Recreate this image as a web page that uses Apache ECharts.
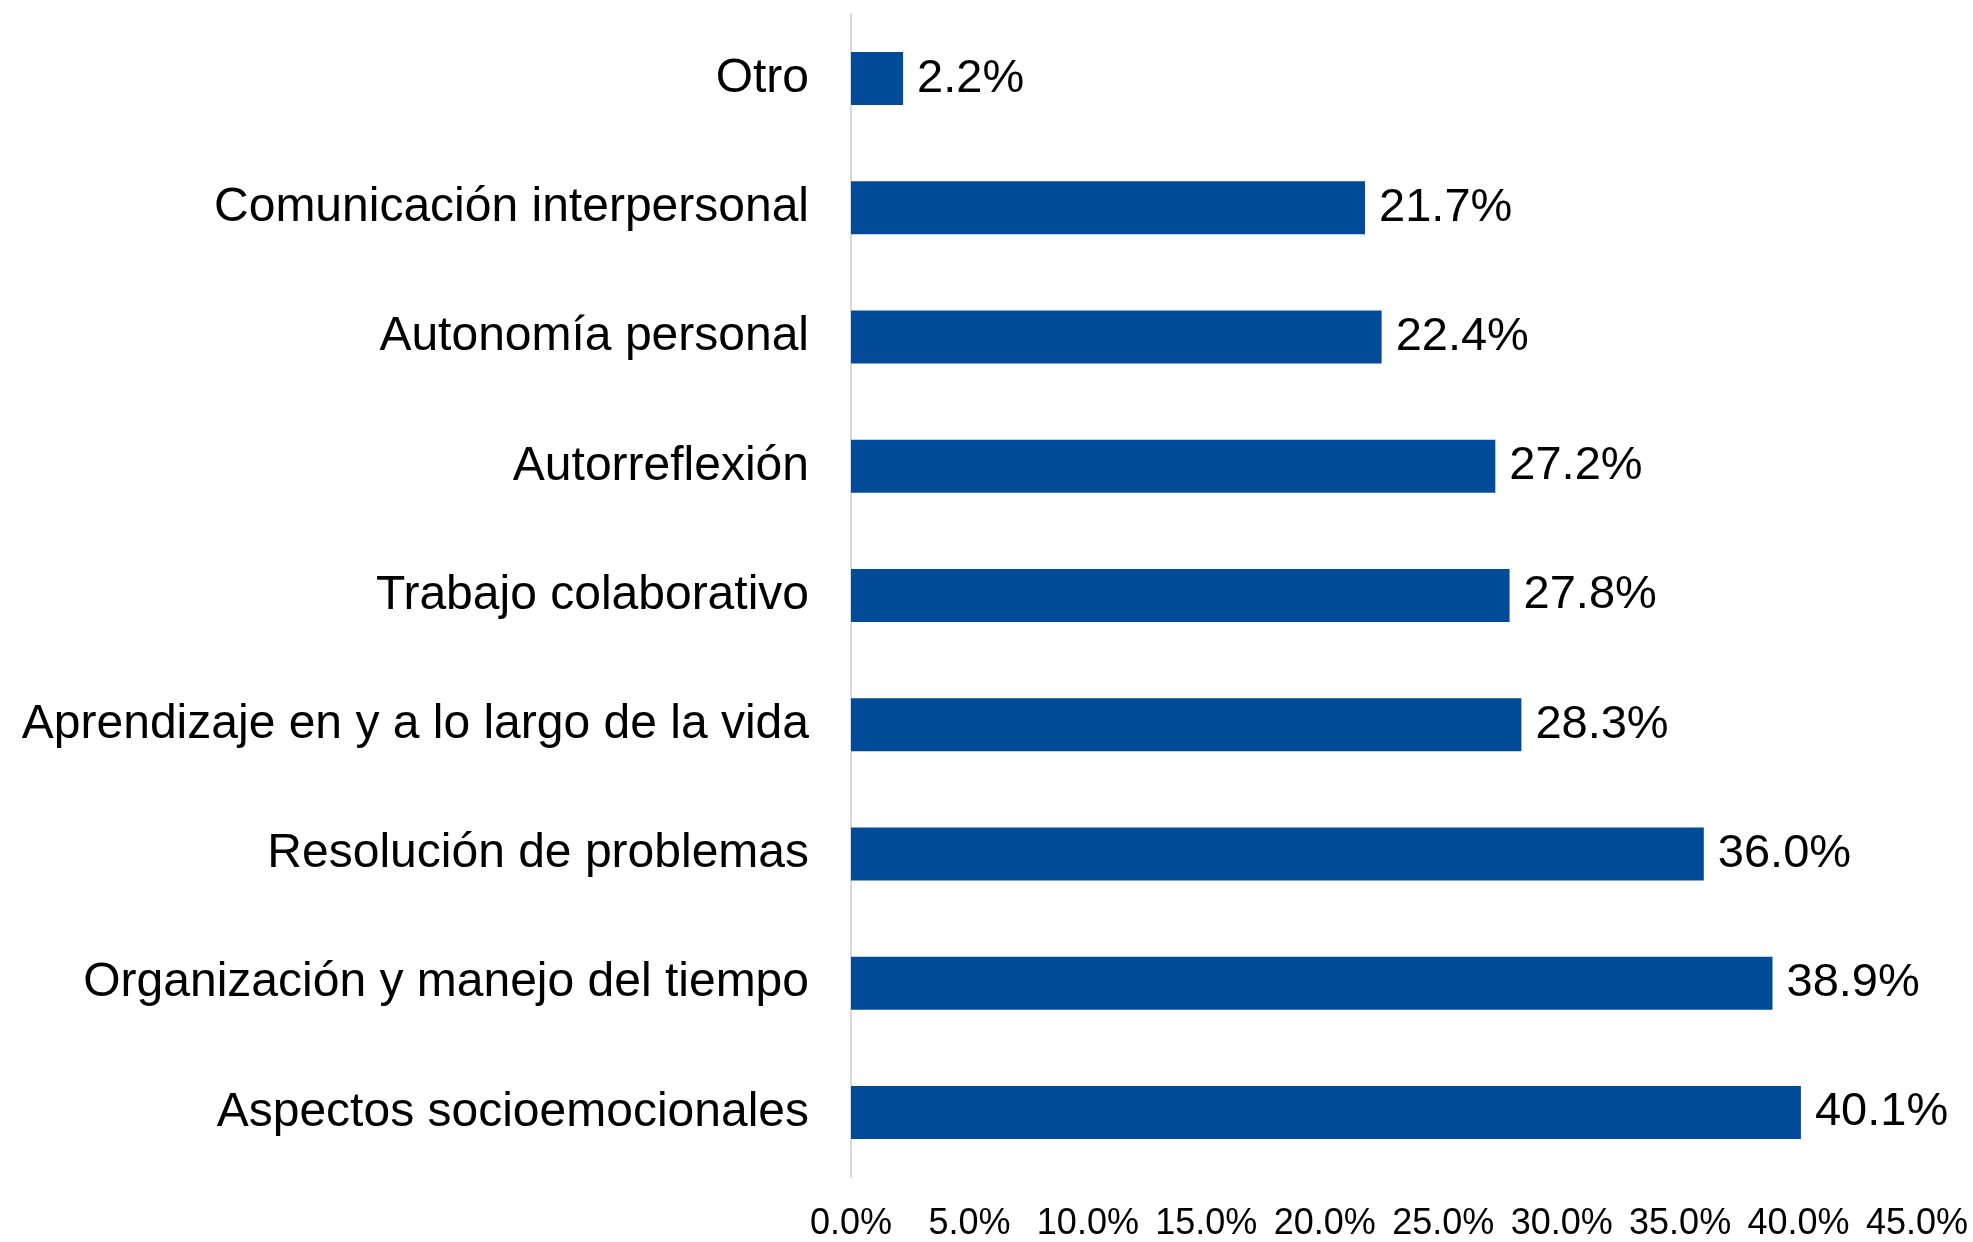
<!DOCTYPE html>
<html>
<head>
<meta charset="utf-8">
<style>
  html, body { margin: 0; padding: 0; background: #ffffff; }
  #chart { width: 1973px; height: 1242px; }
</style>
<script src="https://cdn.jsdelivr.net/npm/echarts@6/dist/echarts.min.js"></script>
</head>
<body>
<div id="chart"></div>
<script>
// Competency categories, listed top to bottom
const categories = [
  'Otro',
  'Comunicación interpersonal',
  'Autonomía personal',
  'Autorreflexión',
  'Trabajo colaborativo',
  'Aprendizaje en y a lo largo de la vida',
  'Resolución de problemas',
  'Organización y manejo del tiempo',
  'Aspectos socioemocionales'
];
// Share of responses (%)
const values = [2.2, 21.7, 22.4, 27.2, 27.8, 28.3, 36.0, 38.9, 40.1];
// Horizontal axis range
const axisMin = 0;
const axisMax = 45;
const axisStep = 5;

const FONT = '"Liberation Sans", Arial, sans-serif';
const pct = v => Number(v).toFixed(1) + '%';

const chart = echarts.init(document.getElementById('chart'), null, { renderer: 'canvas' });
chart.setOption({
  backgroundColor: '#ffffff',
  animation: false,
  grid: { left: 851, right: 56, top: 14, bottom: 63, containLabel: false },
  xAxis: {
    type: 'value',
    min: axisMin,
    max: axisMax,
    interval: axisStep,
    axisLine: { show: false },
    axisTick: { show: false },
    splitLine: { show: false },
    axisLabel: {
      formatter: pct,
      fontFamily: FONT,
      fontSize: 36,
      color: '#000000',
      margin: 29
    }
  },
  yAxis: {
    type: 'category',
    data: categories,
    inverse: true,
    axisLine: { show: true, lineStyle: { color: '#d9d9d9', width: 2 } },
    axisTick: { show: false },
    splitLine: { show: false },
    axisLabel: {
      fontFamily: FONT,
      fontSize: 48,
      color: '#000000',
      margin: 42,
      padding: [14, 0, 0, 0]
    }
  },
  series: [{
    type: 'bar',
    data: values,
    barWidth: '41%',
    itemStyle: { color: '#024B99' },
    label: {
      show: true,
      position: 'right',
      distance: 14,
      formatter: p => pct(p.value),
      fontFamily: FONT,
      fontSize: 47,
      color: '#000000',
      padding: [12, 0, 0, 0]
    }
  }]
});
</script>
</body>
</html>
